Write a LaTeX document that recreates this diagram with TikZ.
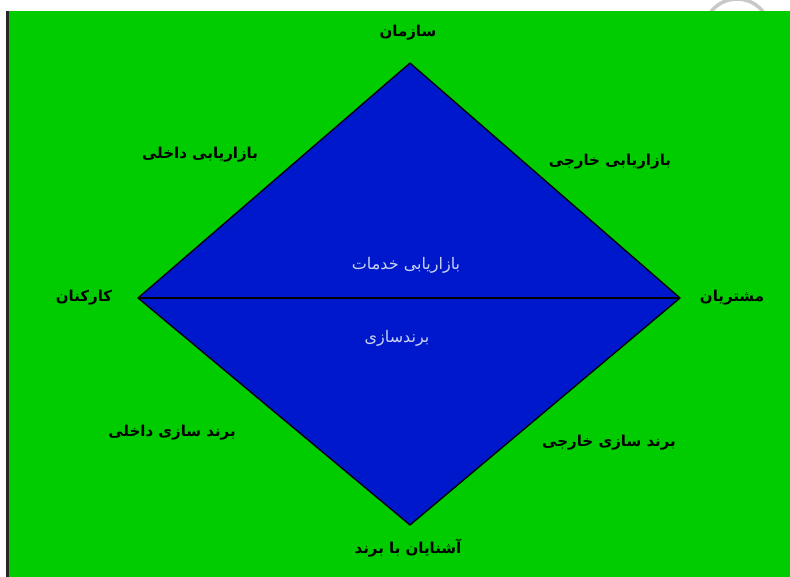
\documentclass[tikz,border=0pt]{standalone}
\usepackage{fontspec}
\newfontfamily\arabicfont[Script=Arabic]{DejaVu Sans}
\TeXXeTstate=1
\definecolor{bggreen}{RGB}{0,204,0}
\definecolor{dblue}{RGB}{0,24,204}
\definecolor{paletxt}{RGB}{200,210,240}
\definecolor{wmgrey}{RGB}{200,200,200}
\tikzset{
  lbl/.style={font=\arabicfont\bfseries\fontsize{15}{17}\selectfont, text=black, inner sep=0pt},
  inlbl/.style={font=\arabicfont\fontsize{16}{18}\selectfont, text=paletxt, inner sep=0pt},
}
\begin{document}
\begin{tikzpicture}[x=1pt,y=-1pt]
\useasboundingbox (0,0) rectangle (790,577);
\fill[white] (0,0) rectangle (790,577);
\begin{scope}
\clip (0,0) rectangle (790,11);
\draw[wmgrey, line width=3.5pt] (737,32) circle[radius=33];
\end{scope}
\fill[bggreen] (9,11) rectangle (790,577);
\fill[black!85] (6,11) rectangle (9,577);
\coordinate (T) at (410,63);
\coordinate (L) at (138,298);
\coordinate (R) at (680,298);
\coordinate (B) at (410,525);
\filldraw[fill=dblue, draw=black, line width=1.3pt, line join=round] (T) -- (R) -- (B) -- (L) -- cycle;
\draw[black, line width=1.6pt] (L) -- (R);
\node[lbl] (top) at (408,33) {\beginR سازمان\endR};
\node[lbl] (il) at (200,155) {\beginR بازاریابی داخلی\endR};
\node[lbl] (el) at (610,162) {\beginR بازاریابی خارجی\endR};
\node[lbl] (kar) at (84,298) {\beginR کارکنان\endR};
\node[lbl] (mosh) at (732,298) {\beginR مشتریان\endR};
\node[inlbl] (srv) at (406,265) {\beginR بازاریابی خدمات\endR};
\node[inlbl] (brn) at (397,338) {\beginR برندسازی\endR};
\node[lbl] (ib) at (172,433) {\beginR برند سازی داخلی\endR};
\node[lbl] (eb) at (609,443) {\beginR برند سازی خارجی\endR};
\node[lbl] (bot) at (408,548) {\beginR آشنایان با برند\endR};
\end{tikzpicture}
\end{document}
